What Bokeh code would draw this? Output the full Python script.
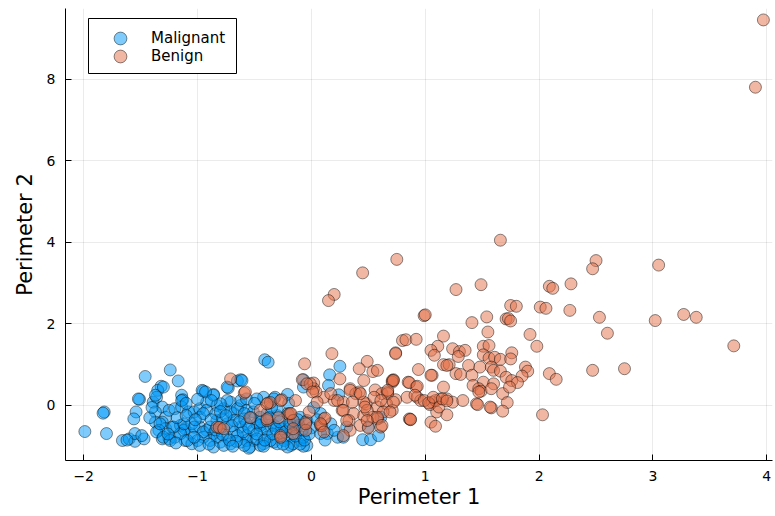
from bokeh.plotting import figure
from bokeh.models import FixedTicker, Legend, LegendItem, BoxAnnotation
from bokeh.embed import file_html
from bokeh.resources import INLINE

# ---------------- data ----------------
categories = ["Malignant", "Benign"]

mal_x = [-1.46, -1.24, -1.17, -1.32, -1.35, -1.14, -1.13, -1.51, -1.82, -1.83, -1.54, -1.56, -1.99, -1.80,
         -1.66, -1.60, -1.55, -1.55, -1.47, -1.49, -1.39, -1.36, -1.31, -1.37, -1.28, -1.25, -1.20, -1.14,
         -1.08, -1.31, -1.37, -1.28, -1.34, -1.22, -1.15, -1.11, -1.06, -1.31, -1.25, -1.20, -1.11, -1.05,
         -0.41, -0.38, -0.65, -0.62, -0.95, -0.86, -0.73, -0.07, -0.42, -0.32, -0.21, -0.74, -0.33, -1.03,
         -0.98, -0.92, -0.83, -0.77, -0.71, -0.68, -0.62, -0.57, -0.51, -0.45, -0.39, -0.30, -0.21, -0.16,
         -0.10, -0.04, -0.98, -0.92, -0.86, -0.80, -0.74, -0.68, -0.62, -0.57, -0.51, -0.45, -0.39, -0.33,
         -0.27, -0.21, -0.16, -0.10, -0.04, -0.89, -0.80, -0.71, -0.62, -0.54, -0.42, -0.30, -0.18, -0.95,
         -1.12, -1.05, -0.83, -0.74, -0.59, -0.48, -0.36, -0.24, -0.13, -0.57, -0.45, -0.55, -0.07, 0.45,
         0.52, 0.59, 0.14, 0.23, 0.25, 0.16, 0.15, 0.24, -0.07, 0.50, 0.08, 0.17, 0.20, 0.28, 0.31, 0.08,
         0.61, -0.86, -0.61, -0.98, -0.92, -0.84, -0.78, -0.71, -0.65, -0.59, -0.68, -0.57, -0.51, -0.45,
         -0.39, -0.33, -0.26, -0.18, -0.11, -1.03, -0.95, -0.89, -1.00, -0.83, -0.65, -0.48, -0.36, -0.24,
         -0.16, -0.07, -0.98, -0.86, -0.77, -0.59, -0.42, -0.21, -0.10, -0.74, -0.80, -0.62, -0.57, -0.48,
         -1.36, -1.30, -1.24, -1.15, -1.09, -1.03, -1.33, -1.21, -1.12, -1.37, -1.30, -1.14, -0.96, -0.93,
         -1.52, -1.62, -0.30, -0.20, 0.02, 0.05, 0.00, 0.12, -0.50, -0.35,
         -0.95, -0.88, -0.80, -0.75, -0.70, -0.66, -0.60, -0.55, -0.53, -0.48, -0.44, -0.41, -0.37, -0.34,
         -0.31, -0.28, -0.25, -0.23, -0.19, -0.14, -0.12, -0.08, -0.06, -0.02, -0.90, -0.84, -0.78, -0.72,
         -0.69, -0.63, -1.18, -1.10, -1.02, -1.26, -1.19, -1.42, -1.40, -1.10, -1.00, -0.88]
mal_y = [0.71, 0.87, 0.60, 0.47, 0.37, 0.25, 0.14, 0.15, -0.16, -0.19, -0.16, -0.33, -0.64, -0.69,
         -0.86, -0.82, -0.88, -0.69, -0.82, -0.74, 0.08, 0.20, -0.04, -0.16, -0.29, -0.12, -0.08, -0.04,
         -0.16, -0.41, -0.41, -0.57, -0.61, -0.53, -0.49, -0.57, -0.69, -0.82, -0.82, -0.78, -0.86, -0.94,
         1.12, 1.06, 0.60, 0.63, 0.35, 0.27, 0.43, 0.45, 0.20, 0.20, 0.27, 0.45, 0.16, -0.16,
         -0.08, 0.08, 0.00, -0.08, 0.08, -0.20, 0.00, -0.12, -0.16, -0.29, -0.20, -0.25, -0.20, -0.37,
         -0.29, -0.37, -0.53, -0.61, -0.69, -0.57, -0.78, -0.65, -0.53, -0.74, -0.86, -0.61, -0.78, -0.90,
         -0.69, -0.82, -0.61, -0.86, -0.98, -0.86, -0.90, -0.94, -0.90, -1.02, -0.94, -0.94, -0.98, -0.78,
         -0.61, -0.45, -0.37, -0.45, -0.33, -0.45, -0.49, -0.53, -0.53, -0.86, -0.98, -1.05, -1.00, -0.84,
         -0.84, -0.74, -0.69, -0.78, 0.96, 0.75, 0.49, 0.26, 0.63, -0.53, -0.20, -0.45, -0.61, -0.78, -0.53, -0.69,
         -0.29, 0.25, 0.61, -0.29, -0.12, -0.20, -0.33, -0.16, -0.08, -0.20, -0.37, -0.45, -0.61, -0.49,
         -0.61, -0.49, -0.57, -0.53, -0.49, -0.53, -0.65, -0.53, -0.86, -0.78, -0.74, -0.82, -0.86, -0.86,
         -0.94, -0.78, -0.98, -1.02, -0.98, -0.98, -1.00, -1.02, -0.95, 0.12, 0.04, 0.12, 0.16, 0.16,
         -0.65, -0.78, -0.86, -0.69, -0.86, -0.78, -0.45, -0.53, -0.45, 0.25, 0.45, 0.12, 0.37, 0.33,
         0.16, -0.85, -0.10, 0.05, -0.05, -0.35, -0.55, -0.85, 0.05, -0.05,
         -0.20, -0.35, -0.15, -0.25, -0.50, -0.88, -0.65, -0.55, -0.30, -0.70, -0.40, -0.85, -0.30, -0.70,
         -0.58, -0.40, -0.95, -0.65, -0.45, -0.75, -0.35, -0.60, -0.85, -0.70, -0.95, -0.60, -0.72, -0.85,
         -1.00, -0.40, -0.30, -0.25, -0.35, -0.70, -0.92, -0.30, -0.05, 0.05, 0.15, 0.12]

ben_x = [3.97, 3.90, 1.66, 0.75, 0.45, 0.20, 0.15, 0.99, 1.00, 1.27, 1.49, 2.09, 2.12, 1.75, 1.80, 2.01,
         2.06, 1.71, 1.73, 1.75, 1.41, 1.54, 1.55, 1.16, 1.92, 1.98, 1.11, 1.05, 1.08, 1.24, 1.30, 1.35,
         1.29, 1.51, 1.56, 1.51, 1.56, 1.61, 1.66, 1.76, 1.75, 1.16, 1.21, 1.19, 1.38, 1.48, 1.58, 1.60,
         1.66, 1.88, 1.90, 1.85, 1.27, 1.31, 1.41, 1.06, 1.71, 1.76, 1.81, 2.09, 2.15, 1.51, 1.60, 1.42,
         1.47, 1.49, 1.58, 1.68, 1.74, 1.16, 1.13, 1.19, 1.24, 1.33, 1.45, 1.46, 1.58, 1.72, 1.68, 2.03,
         1.06, 1.10, 1.19, 1.05, 1.09, 2.50, 2.47, 3.05, 2.28, 2.27, 2.53, 2.60, 3.02, 3.27, 3.38, 3.71,
         2.47, 2.75, 0.80, 0.83, 0.92, 0.74, 0.18, 0.49, 0.42, 0.54, 0.94, 0.25, 0.46, 0.72, 0.71, 0.85,
         0.02, 0.02, 0.34, 0.42, 0.39, 0.56, 0.62, 0.67, 0.74, 0.84, 0.92, 0.93, 0.96, 1.04, 1.09, 1.12,
         0.11, 0.20, 0.28, 0.48, 0.58, 0.66, 0.71, 0.37, 0.46, 0.54, 0.63, 0.86, 0.87, 0.43, 0.50, 0.61,
         0.34, 0.28, 0.08, 0.09, 0.11, 0.12, -0.06, -0.71, -0.59, -0.58, -0.08, -0.01, 0.04, -0.38, -0.36,
         -0.26, -0.14, -0.45, -0.20, -0.19, -0.54, -0.39, -0.29, -0.16, -0.83, -0.81, -0.77, -0.27, -0.16,
         -0.05, -0.05, -0.39, -0.39, -0.27, -0.18, -0.16, -0.27, -0.04, 0.01, 0.05, -0.02, -0.05, 0.08,
         0.11, 0.17, 0.23, 0.27, 0.33, 0.34, 0.46, 0.49, 0.55, 0.58, 0.67, 0.72, 0.71, 0.74, 0.58, 1.05,
         0.86, 0.93, 0.91, 0.99, 1.03, 1.07, 1.15, 1.19, 1.47, 1.57, 0.87, 0.72, 0.67, 0.61, 0.69, 0.58,
         0.62, 0.47, 0.43, 0.36, 0.28, 0.49, 0.31]
ben_y = [9.45, 7.80, 4.05, 3.58, 3.25, 2.72, 2.57, 2.20, 2.22, 2.84, 2.96, 2.92, 2.87, 2.45, 2.43, 2.41,
         2.38, 2.12, 2.13, 2.07, 2.03, 2.17, 1.80, 1.70, 1.74, 1.45, 1.45, 1.35, 1.23, 1.39, 1.32, 1.35,
         1.20, 1.45, 1.47, 1.24, 1.16, 1.18, 1.13, 1.29, 1.14, 1.00, 1.00, 0.98, 0.98, 0.94, 0.94, 0.86,
         0.84, 0.94, 0.84, 0.72, 0.78, 0.76, 0.74, 0.74, 0.69, 0.61, 0.56, 0.78, 0.64, 0.57, 0.53, 0.49,
         0.41, 0.35, 0.41, 0.29, 0.45, 0.45, 0.16, 0.16, 0.08, 0.12, 0.04, 0.02, -0.06, 0.07, -0.14, -0.23,
         0.08, -0.16, -0.23, -0.41, -0.51, 3.55, 3.35, 3.44, 2.98, 2.33, 2.16, 1.77, 2.08, 2.23, 2.16, 1.46,
         0.86, 0.90, 1.59, 1.61, 1.62, 1.29, 1.27, 1.08, 0.90, 0.83, 0.88, 0.65, 0.61, 0.63, 0.57, 0.57,
         0.55, 0.41, 0.41, 0.33, 0.29, 0.38, 0.29, 0.33, 0.14, 0.20, 0.45, 0.20, 0.12, 0.02, 0.12, -0.04,
         0.20, 0.12, 0.08, 0.04, -0.04, 0.04, -0.12, -0.20, -0.25, -0.29, -0.16, -0.33, -0.35, -0.49, -0.55, -0.53,
         -0.61, -0.74, -0.49, -0.50, -0.33, -0.31, 1.02, 0.65, 0.30, 0.33, 0.63, 0.53, 0.33, 0.06, 0.07,
         0.14, 0.12, -0.12, -0.22, -0.20, -0.30, -0.37, -0.30, -0.37, -0.53, -0.54, -0.57, -0.74, -0.69,
         -0.41, -0.61, 0.04, -0.33, 0.12, -0.20, -0.57, -0.78, 0.53, 0.33, 0.08, -0.16, -0.45, -0.45,
         -0.65, 0.29, 0.12, -0.12, -0.37, 0.37, 0.08, -0.12, 0.20, -0.33, 0.29, 0.08, 0.61, 1.27, 0.86, 0.74,
         0.56, 0.47, 0.25, 0.12, 0.06, 0.20, 0.16, 0.11, 0.33, -0.04, -0.34, 0.61, 0.37, 0.12, -0.16, -0.29,
         -0.49, -0.04, 0.29, 0.08, -0.12, -0.37, -0.37]

x_ticks = [-2, -1, 0, 1, 2, 3, 4]
y_ticks = [0, 2, 4, 6, 8]
x_tick_labels = {-2: "−2", -1: "−1"}
x_label = "Perimeter 1"
y_label = "Perimeter 2"

# ---------------- figure ----------------
FONT = "DejaVu Sans"
p = figure(width=775, height=516, x_range=(-2.16, 4.05), y_range=(-1.35, 9.73),
           output_backend="svg", toolbar_location=None,
           min_border_left=65, min_border_right=3, min_border_top=8, min_border_bottom=56)
p.outline_line_color = None
p.background_fill_color = "white"
p.border_fill_color = "white"

r_mal = p.scatter(mal_x, mal_y, size=12, marker="circle", fill_color="#009AFA", fill_alpha=0.5,
                  line_color="black", line_alpha=0.45, line_width=1)
r_ben = p.scatter(ben_x, ben_y, size=12, marker="circle", fill_color="#E36F47", fill_alpha=0.5,
                  line_color="black", line_alpha=0.45, line_width=1)

p.xaxis.ticker = FixedTicker(ticks=x_ticks)
p.yaxis.ticker = FixedTicker(ticks=y_ticks)
p.xaxis.major_label_overrides = x_tick_labels
p.xaxis.axis_label = x_label
p.yaxis.axis_label = y_label

for ax in (p.xaxis[0], p.yaxis[0]):
    ax.axis_line_color = "black"
    ax.axis_line_width = 1
    ax.major_tick_in = 6
    ax.major_tick_out = 0
    ax.major_tick_line_color = "black"
    ax.minor_tick_line_color = None
    ax.major_label_text_font = FONT
    ax.major_label_text_font_size = "14px"
    ax.major_label_text_color = "black"
    ax.major_label_standoff = 10
    ax.axis_label_text_font = FONT
    ax.axis_label_text_font_size = "21px"
    ax.axis_label_text_font_style = "normal"
    ax.axis_label_text_color = "black"
p.xaxis.axis_label_standoff = 1
p.yaxis.axis_label_standoff = 7

p.grid.grid_line_color = "black"
p.grid.grid_line_alpha = 0.08
p.grid.grid_line_width = 1

# legend frame (canvas pixels) and one legend per entry so that the markers can be large
box = BoxAnnotation(left=88, right=236, top=18, bottom=73,
                    left_units="canvas", right_units="canvas", top_units="canvas", bottom_units="canvas",
                    fill_color="white", fill_alpha=1, line_color="black", line_alpha=1, line_width=1)
p.add_layout(box)


def make_legend(label, renderer, y_off):
    lg = Legend(items=[LegendItem(label=label, renderers=[renderer])], location=(39, y_off))
    lg.margin = 0
    lg.padding = 0
    lg.spacing = 0
    lg.glyph_width = 32
    lg.glyph_height = 32
    lg.label_height = 32
    lg.label_standoff = 15
    lg.label_text_font = FONT
    lg.label_text_font_size = "15px"
    lg.label_text_color = "black"
    lg.border_line_color = None
    lg.background_fill_alpha = 0
    return lg


p.add_layout(make_legend(categories[0], r_mal, 406), "center")
p.add_layout(make_legend(categories[1], r_ben, 388), "center")

open("out.html", "w").write(file_html(p, INLINE))
